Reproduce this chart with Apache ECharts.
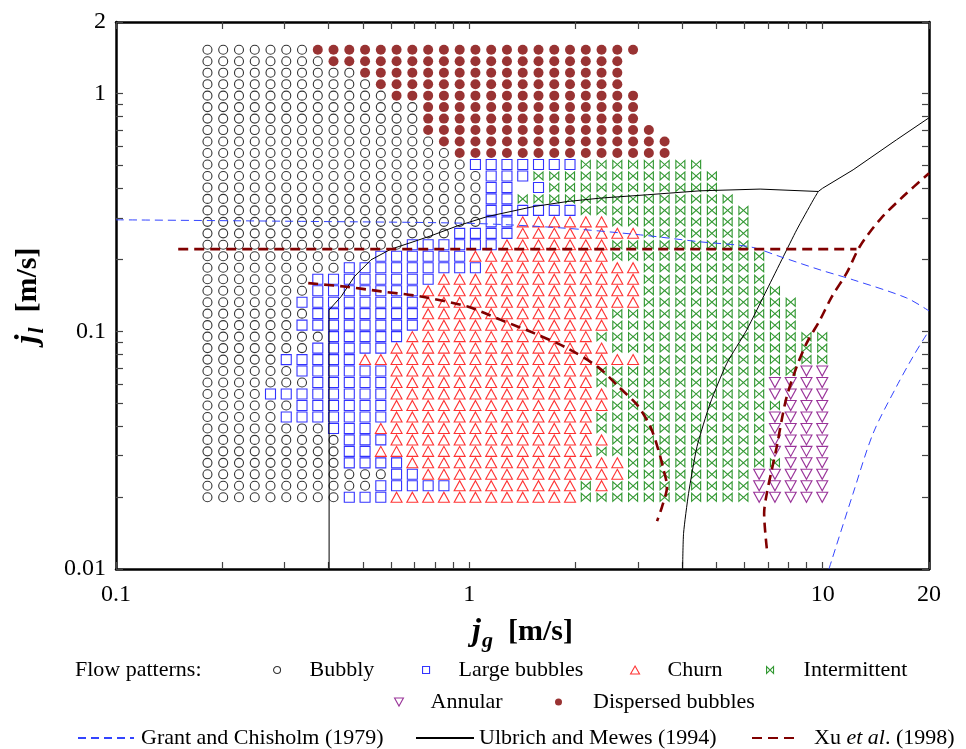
<!DOCTYPE html>
<html><head><meta charset="utf-8">
<script src="https://cdn.jsdelivr.net/npm/echarts@6/dist/echarts.min.js"></script>
<style>html,body{margin:0;padding:0;background:#fff}#chart{width:966px;height:749px}</style>
</head><body><div id="chart"></div>
<script>
// Gas superficial velocity of each measurement column [m/s]
const jgColumns = [0.1815,0.2011,0.2229,0.2470,0.2737,0.3033,0.3361,0.3725,0.4127,0.4574,
  0.5069,0.5617,0.6224,0.6898,0.7647,0.8474,0.9391,1.0406,1.1532,1.2780,
  1.4163,1.5697,1.7395,1.9275,2.1363,2.3673,2.6233,2.9072,3.2219,3.5703,
  3.9566,4.3846,4.8589,5.3845,5.9668,6.6129,7.3282,8.1209,8.9994,9.9724];
// Liquid superficial velocity of each measurement row [m/s], top to bottom
const jlRows = [1.529,1.368,1.224,1.095,0.9800,0.8769,0.7847,0.7021,0.6283,0.5622,
  0.5030,0.4501,0.4028,0.3604,0.3225,0.2886,0.2582,0.2311,0.2068,0.1850,
  0.1655,0.1481,0.1325,0.1186,0.1061,0.09495,0.08496,0.07602,0.06803,0.06087,
  0.05447,0.04874,0.04361,0.03902,0.03492,0.03125,0.02796,0.02502,0.02239,0.02003];
// Observed flow pattern along each row, column by column (run lengths)
// b Bubbly, l Large bubbles, c Churn, i Intermittent, a Annular, d Dispersed bubbles, . none
const rowPatterns = [
  "b7 d21","b8 d19","b10 d17","b11 d16","b12 d16","b14 d14","b14 d14","b14 d15","b15 d15","b16 d14",
  "b17 l7 i8","b18 l3 i12","b18 l2 .1 l1 i11","b18 l2 i14","b18 l6 i11","b18 l2 c6 i9","b16 l4 c8 i7",
  "b13 l6 c7 i9","b11 l6 c9 i10","b9 l9 c10 i8","b7 l8 c13 i8","b7 l7 c14 i9","b6 l8 c14 i10",
  "b7 l7 c12 i12","b6 l8 c12 i12","b8 l5 c12 i15","b7 l5 c14 i14","b5 l5 c18 i12",
  "b6 l6 c13 i13 a2","b7 l5 c13 i11 a4","b4 l8 c14 i10 a4","b6 l6 c14 i11 a3","b5 l7 c13 i11 a4",
  "b8 l3 c14 i11 a4","b9 l3 c14 i10 a4","b9 l2 c14 i11 a4","b9 l4 c14 i10 a3","b12 l2 c13 i8 a5",
  "b11 l5 c8 i1 c1 i9 a5","b9 l3 c12 i11 a5"];
const patternNames = {b:'Bubbly', l:'Large bubbles', c:'Churn', i:'Intermittent', a:'Annular', d:'Dispersed bubbles'};

// Transition boundaries [jg, jl]
const grantUpper = [[0.1,0.2944],[0.3344,0.290],[1.01,0.2844],[1.813,0.2723],[3.05,0.2544],[4.505,0.2378],
  [6.23,0.2266],[7.576,0.2062],[9.83,0.1813],[12.2,0.1646],[17.27,0.1382],[20,0.1218]];
const grantLower = [[10.42,0.01],[12.2,0.02083],[13.9,0.03725],[16.18,0.05853],[18.02,0.0782],[19.66,0.0966],[20,0.0994]];
const ulbrichMain = [[0.401,0.01],[0.401,0.123],[0.4337,0.140],[0.473,0.170],[0.527,0.1998],[0.6003,0.2216],
  [0.6838,0.2362],[0.7785,0.2521],[0.926,0.2777],[1.126,0.3039],[1.521,0.3347],[1.893,0.3514],[2.351,0.3633],
  [3.185,0.3751],[4.505,0.3899],[6.653,0.3964],[9.72,0.3873],[9.99,0.3994],[12.2,0.4778],[16.18,0.639],[20,0.791]];
const ulbrichBranch = [[9.72,0.3873],[9.408,0.357],[8.446,0.2672],[7.741,0.2062],[6.95,0.1494],[6.1,0.1014],
  [5.358,0.0734],[4.806,0.0498],[4.41,0.0327],[4.174,0.0208],[4.04,0.01413],[4.015,0.01]];
const xuHorizontal = [[0.15,0.2216],[12.47,0.2216]];
const xuLeft = [[0.35,0.1594],[0.442,0.1542],[0.5627,0.1472],[0.7295,0.140],[0.988,0.127],[1.227,0.1117],
  [1.524,0.0982],[1.893,0.0849],[2.32,0.0705],[2.643,0.0585],[2.985,0.049],[3.253,0.0397],[3.428,0.0317],
  [3.548,0.0261],[3.627,0.0222],[3.512,0.0183],[3.399,0.0159]];
const xuRight = [[6.95,0.0122],[6.83,0.01716],[6.95,0.0208],[7.178,0.0261],[7.415,0.0327],[7.66,0.0424],
  [7.913,0.0531],[8.446,0.071],[9.01,0.0891],[9.83,0.1117],[10.62,0.140],[11.69,0.1756],[12.74,0.2273],
  [14.51,0.2944],[16.89,0.3688],[20,0.462]];

// Axis ticks and labels
const xTickValues = [0.1,0.2,0.3,0.4,0.5,0.6,0.7,0.8,0.9,1,2,3,4,5,6,7,8,9,10,20];
const yTickValues = [0.01,0.02,0.03,0.04,0.05,0.06,0.07,0.08,0.09,0.1,0.2,0.3,0.4,0.5,0.6,0.7,0.8,0.9,1,2];
const xLabelValues = [0.1,1,10,20];
const yLabelValues = [0.01,0.1,1,2];

const points = {b:[],l:[],c:[],i:[],a:[],d:[]};
rowPatterns.forEach((runs, r) => {
  let col = 0;
  runs.split(' ').forEach(tok => {
    const code = tok[0], n = parseInt(tok.slice(1), 10);
    for (let k = 0; k < n; k++) {
      if (code !== '.') points[code].push([jgColumns[col], jlRows[r]]);
      col++;
    }
  });
});

const FONT = "'Liberation Serif', 'Times New Roman', serif";
const BOWTIE = 'path://M0 0L0 10L10 0L10 10Z';
const DOWNTRI = 'path://M0 0L10 0L5 9Z';
const styles = {
  b: {symbol:'circle', size:9, color:'#000000', open:true},
  l: {symbol:'rect', size:10, color:'#0000ff', open:true},
  c: {symbol:'triangle', size:[11,10], color:'#ff0000', open:true},
  i: {symbol:BOWTIE, size:[9,8], color:'#008000', open:true},
  a: {symbol:DOWNTRI, size:[11,10], color:'#800080', open:true},
  d: {symbol:'circle', size:10, color:'#800000', open:false}
};
function itemStyleFor(s) {
  return s.open ? {color:'rgba(0,0,0,0)', borderColor:s.color, borderWidth:1.1}
                : {color:s.color, borderWidth:0};
}

const rich = {
  j: {fontFamily:FONT, fontSize:32, fontStyle:'italic', fontWeight:'bold', lineHeight:40, color:'#000'},
  s: {fontFamily:FONT, fontSize:22, fontStyle:'italic', fontWeight:'bold', lineHeight:22, padding:[18,0,0,1], color:'#000'},
  u: {fontFamily:FONT, fontSize:30, fontWeight:'bold', lineHeight:40, color:'#000'}
};
function fmt(v) { return String(parseFloat(Number(v).toPrecision(4))); }
function makeAxis(kind, pos, main) {
  const isX = kind === 'x';
  const ax = {
    type:'log', logBase:10, min: isX ? 0.1 : 0.01, max: isX ? 20 : 2, position:pos,
    axisLine:{show:true, onZero:false, lineStyle:{color:'#000', width:2.5}},
    axisTick:{show:true, inside:true, length:7, customValues: isX ? xTickValues : yTickValues,
      lineStyle:{color:'#444', width:1.2}},
    axisLabel:{show:main, customValues: isX ? xLabelValues : yLabelValues, formatter:fmt,
      fontFamily:FONT, fontSize:24, color:'#000', margin: isX ? 14 : 10},
    splitLine:{show:false}, minorTick:{show:false}, minorSplitLine:{show:false}
  };
  if (main) {
    ax.nameLocation = 'middle';
    ax.nameTextStyle = {rich: rich};
    if (isX) { ax.name = '{j|j}{s|g}{u|  [m/s]}'; ax.nameGap = 38; }
    else { ax.name = '{j|j}{s|l}{u|  [m/s]}'; ax.nameGap = 68; ax.nameRotate = 90; }
  }
  return ax;
}

const series = [];
['b','l','c','i','a','d'].forEach(code => {
  const s = styles[code];
  series.push({
    type:'scatter', name:patternNames[code], data:points[code],
    symbol:s.symbol, symbolSize:s.size, itemStyle:itemStyleFor(s),
    silent:true, emphasis:{disabled:true}, z:2
  });
});
function lineSeries(name, data, color, width, type, smooth) {
  return {type:'line', name:name, data:data, symbol:'none', showSymbol:false, smooth:smooth, silent:true,
    lineStyle:{color:color, width:width, type:type}, itemStyle:{color:color}, z:3, emphasis:{disabled:true}};
}
const GRANT = 'Grant and Chisholm (1979)', ULB = 'Ulbrich and Mewes (1994)', XU = 'Xu et al. (1998)';
series.push(lineSeries(ULB, ulbrichMain, '#000000', 1, 'solid', false));
series.push(lineSeries(ULB, ulbrichBranch, '#000000', 1, 'solid', 0.2));
series.push(lineSeries(GRANT, grantUpper, '#3344ff', 1, [8,5], 0.3));
series.push(lineSeries(GRANT, grantLower, '#3344ff', 1, [8,5], 0.3));
series.push(lineSeries(XU, xuHorizontal, '#800000', 2.6, [10,6], false));
series.push(lineSeries(XU, xuLeft, '#800000', 2.6, [10,6], 0.3));
series.push(lineSeries(XU, xuRight, '#800000', 2.6, [10,6], 0.3));

const legTxt = {fontFamily:FONT, fontSize:22, color:'#000', lineHeight:24};
function markerLegend(code, icon, left, top, w, h, pad) {
  const s = styles[code];
  return {data:[{name:patternNames[code], icon:icon, itemStyle:itemStyleFor(s)}],
    left:left, top:top, itemWidth:w, itemHeight:h, selectedMode:false, padding:0,
    textStyle:Object.assign({}, legTxt, {padding:[0,0,0,pad]})};
}
function lineLegend(name, left, top, w, pad, formatter) {
  const ts = Object.assign({}, legTxt, {padding:[0,0,0,pad]});
  if (formatter) ts.rich = {r:{fontFamily:FONT, fontSize:22, color:'#000'}, i:{fontFamily:FONT, fontSize:22, fontStyle:'italic', color:'#000'}};
  const lg = {data:[{name:name, itemStyle:{opacity:0}}], left:left, top:top, itemWidth:w, itemHeight:10,
    itemStyle:{opacity:0}, selectedMode:false, padding:0, textStyle:ts};
  if (formatter) lg.formatter = formatter;
  return lg;
}

const option = {
  animation:false,
  backgroundColor:'#ffffff',
  title:{text:'Flow patterns:', left:75, top:658, padding:0,
    textStyle:{fontFamily:FONT, fontSize:22, fontWeight:'normal', color:'#000', lineHeight:24}},
  grid:{left:114, right:37, top:22, bottom:180},
  xAxis:[makeAxis('x','bottom',true), makeAxis('x','top',false)],
  yAxis:[makeAxis('y','left',true), makeAxis('y','right',false)],
  legend:[
    markerLegend('b','circle',273,658,7,7,24),
    markerLegend('l','rect',422,658,7,7,24),
    markerLegend('c','triangle',630,658,9,8,23),
    markerLegend('i',BOWTIE,766,658,7,7,25),
    markerLegend('a',DOWNTRI,394,690,9,8,22),
    markerLegend('d','circle',555,690,7,7,26),
    lineLegend(GRANT,77,726,56,2),
    lineLegend(ULB,415,726,58,0),
    lineLegend(XU,751,726,44,13,'{r|Xu }{i|et al}{r|. (1998)}')
  ],
  series:series
};
const chart = echarts.init(document.getElementById('chart'));
chart.setOption(option);
</script>
</body></html>
